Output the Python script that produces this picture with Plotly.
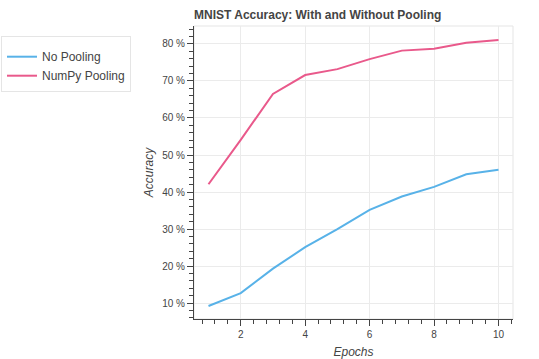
import plotly.graph_objects as go

epochs = [1, 2, 3, 4, 5, 6, 7, 8, 9, 10]
no_pooling = [9.2, 12.7, 19.3, 25.1, 30.0, 35.2, 38.8, 41.4, 44.8, 46.0]
numpy_pooling = [42.1, 54.1, 66.5, 71.6, 73.2, 75.9, 78.2, 78.7, 80.3, 81.1]
x_ticks = [2, 4, 6, 8, 10]
y_ticks = [10, 20, 30, 40, 50, 60, 70, 80]
y_tick_labels = [f"{v} %" for v in y_ticks]

FONT = "Liberation Sans, Arial, sans-serif"

fig = go.Figure()
fig.add_trace(go.Scatter(x=epochs, y=no_pooling, mode="lines", name="No Pooling",
                         line=dict(color="#58b2e8", width=2)))
fig.add_trace(go.Scatter(x=epochs, y=numpy_pooling, mode="lines", name="NumPy Pooling",
                         line=dict(color="#e9598b", width=2)))

fig.update_layout(
    width=539, height=359,
    margin=dict(l=194, r=26, t=26, b=40, autoexpand=False),
    paper_bgcolor="white", plot_bgcolor="white",
    font=dict(family=FONT, color="#444444", size=11),
    title=dict(text="<b>MNIST Accuracy: With and Without Pooling</b>",
               x=0, xref="paper", xanchor="left",
               y=1 - 15 / 359, yref="container", yanchor="middle",
               font=dict(size=12, color="#444444", family=FONT)),
    showlegend=True,
    legend=dict(x=-193 / 319, y=(319 - 36) / 293, xanchor="left", yanchor="top",
                bordercolor="#e5e5e5", borderwidth=1, bgcolor="white",
                font=dict(size=12, color="#444444", family=FONT),
                title=dict(text=" ", font=dict(size=4)),
                itemwidth=30),
    shapes=[dict(type="rect", xref="paper", yref="paper", x0=0, x1=1, y0=0, y1=1,
                 line=dict(color="#e5e5e5", width=1), layer="below")],
)

fig.update_xaxes(
    automargin=False,
    range=[0.55, 10.45], tickmode="array", tickvals=x_ticks,
    showgrid=True, gridcolor="#ebebeb", gridwidth=1, zeroline=False,
    showline=True, linecolor="#444444", linewidth=1,
    ticks="outside", ticklen=6, tickcolor="#444444",
    tickfont=dict(size=10, color="#444444"),
    minor=dict(tickmode="linear", tick0=0, dtick=0.4, ticks="outside", ticklen=4,
               tickcolor="#444444", showgrid=False),
    title=dict(text="<i>Epochs</i>", font=dict(size=12, color="#444444"), standoff=8),
)
fig.update_yaxes(
    automargin=False,
    range=[5.7, 84.85], tickmode="array", tickvals=y_ticks, ticktext=y_tick_labels,
    showgrid=True, gridcolor="#ebebeb", gridwidth=1, zeroline=False,
    showline=True, linecolor="#444444", linewidth=1,
    ticks="outside", ticklen=6, tickcolor="#444444",
    tickfont=dict(size=10, color="#444444"),
    minor=dict(tickmode="linear", tick0=0, dtick=2, ticks="outside", ticklen=4,
               tickcolor="#444444", showgrid=False),
    title=dict(text="<i>Accuracy</i>", font=dict(size=12, color="#444444"), standoff=6),
)

fig.write_html("out.html", config={"displayModeBar": False},
               post_script="document.body.style.margin='0';document.body.style.overflow='hidden';")
